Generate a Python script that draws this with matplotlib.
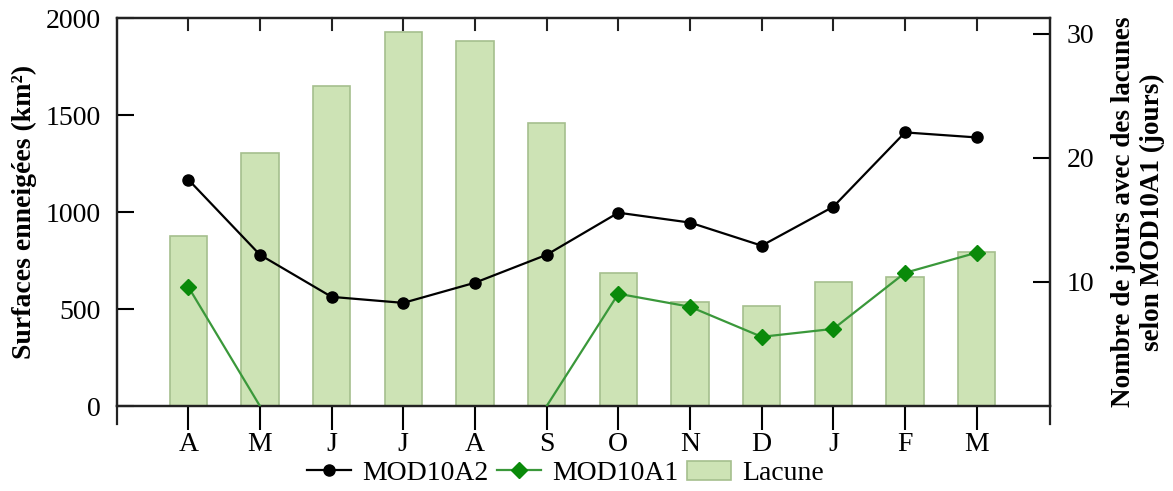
# Surfaces enneigées MOD10A2 / MOD10A1 et jours avec lacunes

import numpy as np
import matplotlib.pyplot as plt
from matplotlib.lines import Line2D
from matplotlib.patches import Patch

plt.rcParams['font.family'] = ['Liberation Serif', 'DejaVu Serif']

# mois (avril -> mars)
mois = ['A', 'M', 'J', 'J', 'A', 'S', 'O', 'N', 'D', 'J', 'F', 'M']
# surfaces enneigées (km²)
mod10a2 = [1168, 780, 563, 532, 636, 780, 997, 946, 827, 1028, 1411, 1385]
mod10a1 = [615, 0, np.nan, np.nan, np.nan, 0, 579, 512, 357, 398, 687, 791]
# nombre de jours avec lacunes
lacune = [13.7, 20.4, 25.8, 30.1, 29.4, 22.8, 10.7, 8.4, 8.1, 10.0, 10.4, 12.4]

x = np.arange(len(mois))
bar_col = '#cde3b5'
bar_edge = '#a5bf8e'
green = '#3a983a'
gmark = '#0a8a0a'

fig, ax = plt.subplots(figsize=(11.73, 4.91), dpi=100)
ax2 = ax.twinx()

# barres sur l'axe de droite
ax2.bar(x, lacune, width=0.52, color=bar_col, edgecolor=bar_edge, linewidth=1.2, zorder=1)
ax2.set_ylim(0, 31.25)
ax2.set_yticks([10, 20, 30])

# courbes sur l'axe de gauche (au-dessus des barres)
ax.set_zorder(ax2.get_zorder() + 1)
ax.patch.set_visible(False)
ax.plot(x, mod10a2, color='black', lw=1.6, marker='o', ms=8, zorder=3)
mk = [i for i, v in enumerate(mod10a1) if v > 0]
ax.plot(x, mod10a1, color=green, lw=1.6, marker='D', ms=8,
        mfc=gmark, mec=gmark, markevery=mk, zorder=3)

ax.set_xlim(-0.99, 12.02)
ax.set_ylim(0, 2000)
ax.set_yticks([0, 500, 1000, 1500, 2000])
ax.set_xticks(x)
ax.set_xticklabels(mois)

for a in (ax, ax2):
    for s in a.spines.values():
        s.set_linewidth(1.6)
        s.set_color('#222222')

ax.tick_params(axis='y', direction='in', length=12, width=1.5, labelsize=20, pad=12)
ax.tick_params(axis='x', direction='out', length=17, width=1.5, labelsize=20, pad=2)
ax2.tick_params(axis='y', direction='in', length=12, width=1.5, labelsize=20, pad=12)

# petites graduations en haut, vers l'intérieur
for xi in x:
    ax.plot([xi, xi], [1, 0.97], transform=ax.get_xaxis_transform(),
            color='#222222', lw=1.5, clip_on=False)

# prolongement des axes verticaux sous la base
for xa in (0, 1):
    ax.plot([xa, xa], [0, -0.045], transform=ax.transAxes, color='#222222',
            lw=1.6, clip_on=False)

ax.set_ylabel('Surfaces enneigées (km²)', fontsize=20, fontweight='bold', labelpad=6)
ax2.set_ylabel('Nombre de jours avec des lacunes\nselon MOD10A1 (jours)',
               fontsize=19.5, fontweight='bold', labelpad=12, linespacing=1.2)

handles = [
    Line2D([], [], color='black', lw=1.6, marker='o', ms=8),
    Line2D([], [], color=green, lw=1.6, marker='D', ms=8, mfc=gmark, mec=gmark),
    Patch(facecolor=bar_col, edgecolor=bar_edge, linewidth=1.2),
]
fig.legend(handles, ['MOD10A2', 'MOD10A1', 'Lacune'], loc='center',
           bbox_to_anchor=(0.482, 0.036), ncol=3, frameon=False, fontsize=20,
           handlelength=1.6, columnspacing=0.3, handletextpad=0.4,
           borderpad=0.1)

plt.subplots_adjust(left=0.1, right=0.895, top=0.963, bottom=0.173)
plt.savefig('out.png', dpi=100)
